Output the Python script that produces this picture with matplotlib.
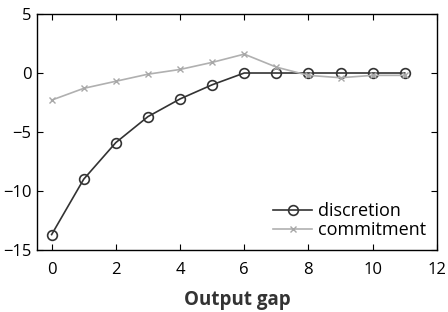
import matplotlib
matplotlib.use("Agg")
import matplotlib.pyplot as plt

# ============================== Data

periods = list(range(12))
discretion = [-13.7, -9.0, -5.9, -3.7, -2.2, -1.0, 0.0, 0.0, 0.0, 0.0, 0.0, 0.0]
commitment = [-2.3, -1.3, -0.7, -0.1, 0.3, 0.9, 1.6, 0.5, -0.2, -0.4, -0.2, -0.2]
xticks = [0, 2, 4, 6, 8, 10, 12]
yticks = [-15, -10, -5, 0, 5]

# ============================== Plot

plt.rcParams["font.family"] = ["Open Sans", "DejaVu Sans"]

fig = plt.figure(figsize=(4.48, 3.12), dpi=100)
ax = fig.add_axes([0.083, 0.199, 0.892, 0.756])

ax.plot(periods, discretion, color="#333333", linewidth=1.2, marker="o",
        markersize=7, markerfacecolor="none", markeredgecolor="#333333",
        markeredgewidth=1.2, label="discretion")
ax.plot(periods, commitment, color="#b0b0b0", linewidth=1.2, marker="x",
        markersize=5, markeredgecolor="#a8a8a8", label="commitment")

ax.set_xlim(-0.45, 11.9)
ax.set_ylim(-15, 5)
ax.set_xticks(xticks)
ax.set_yticks(yticks)
ax.set_yticklabels(["\u221215", "\u221210", "\u22125", "0", "5"])
ax.tick_params(direction="in", top=True, right=True, labelsize=12, length=4)
ax.tick_params(axis="x", pad=9)
ax.tick_params(axis="y", pad=4)
ax.set_xlabel("Output gap", fontsize=13.5, fontweight="bold", color="#333333",
              labelpad=8)

for s in ax.spines.values():
    s.set_linewidth(1.0)

ax.legend(loc="lower right", frameon=False, fontsize=13, handlelength=2.2,
          handletextpad=0.3, labelspacing=0.05, borderaxespad=0.2)

fig.savefig("out.png", dpi=100)
